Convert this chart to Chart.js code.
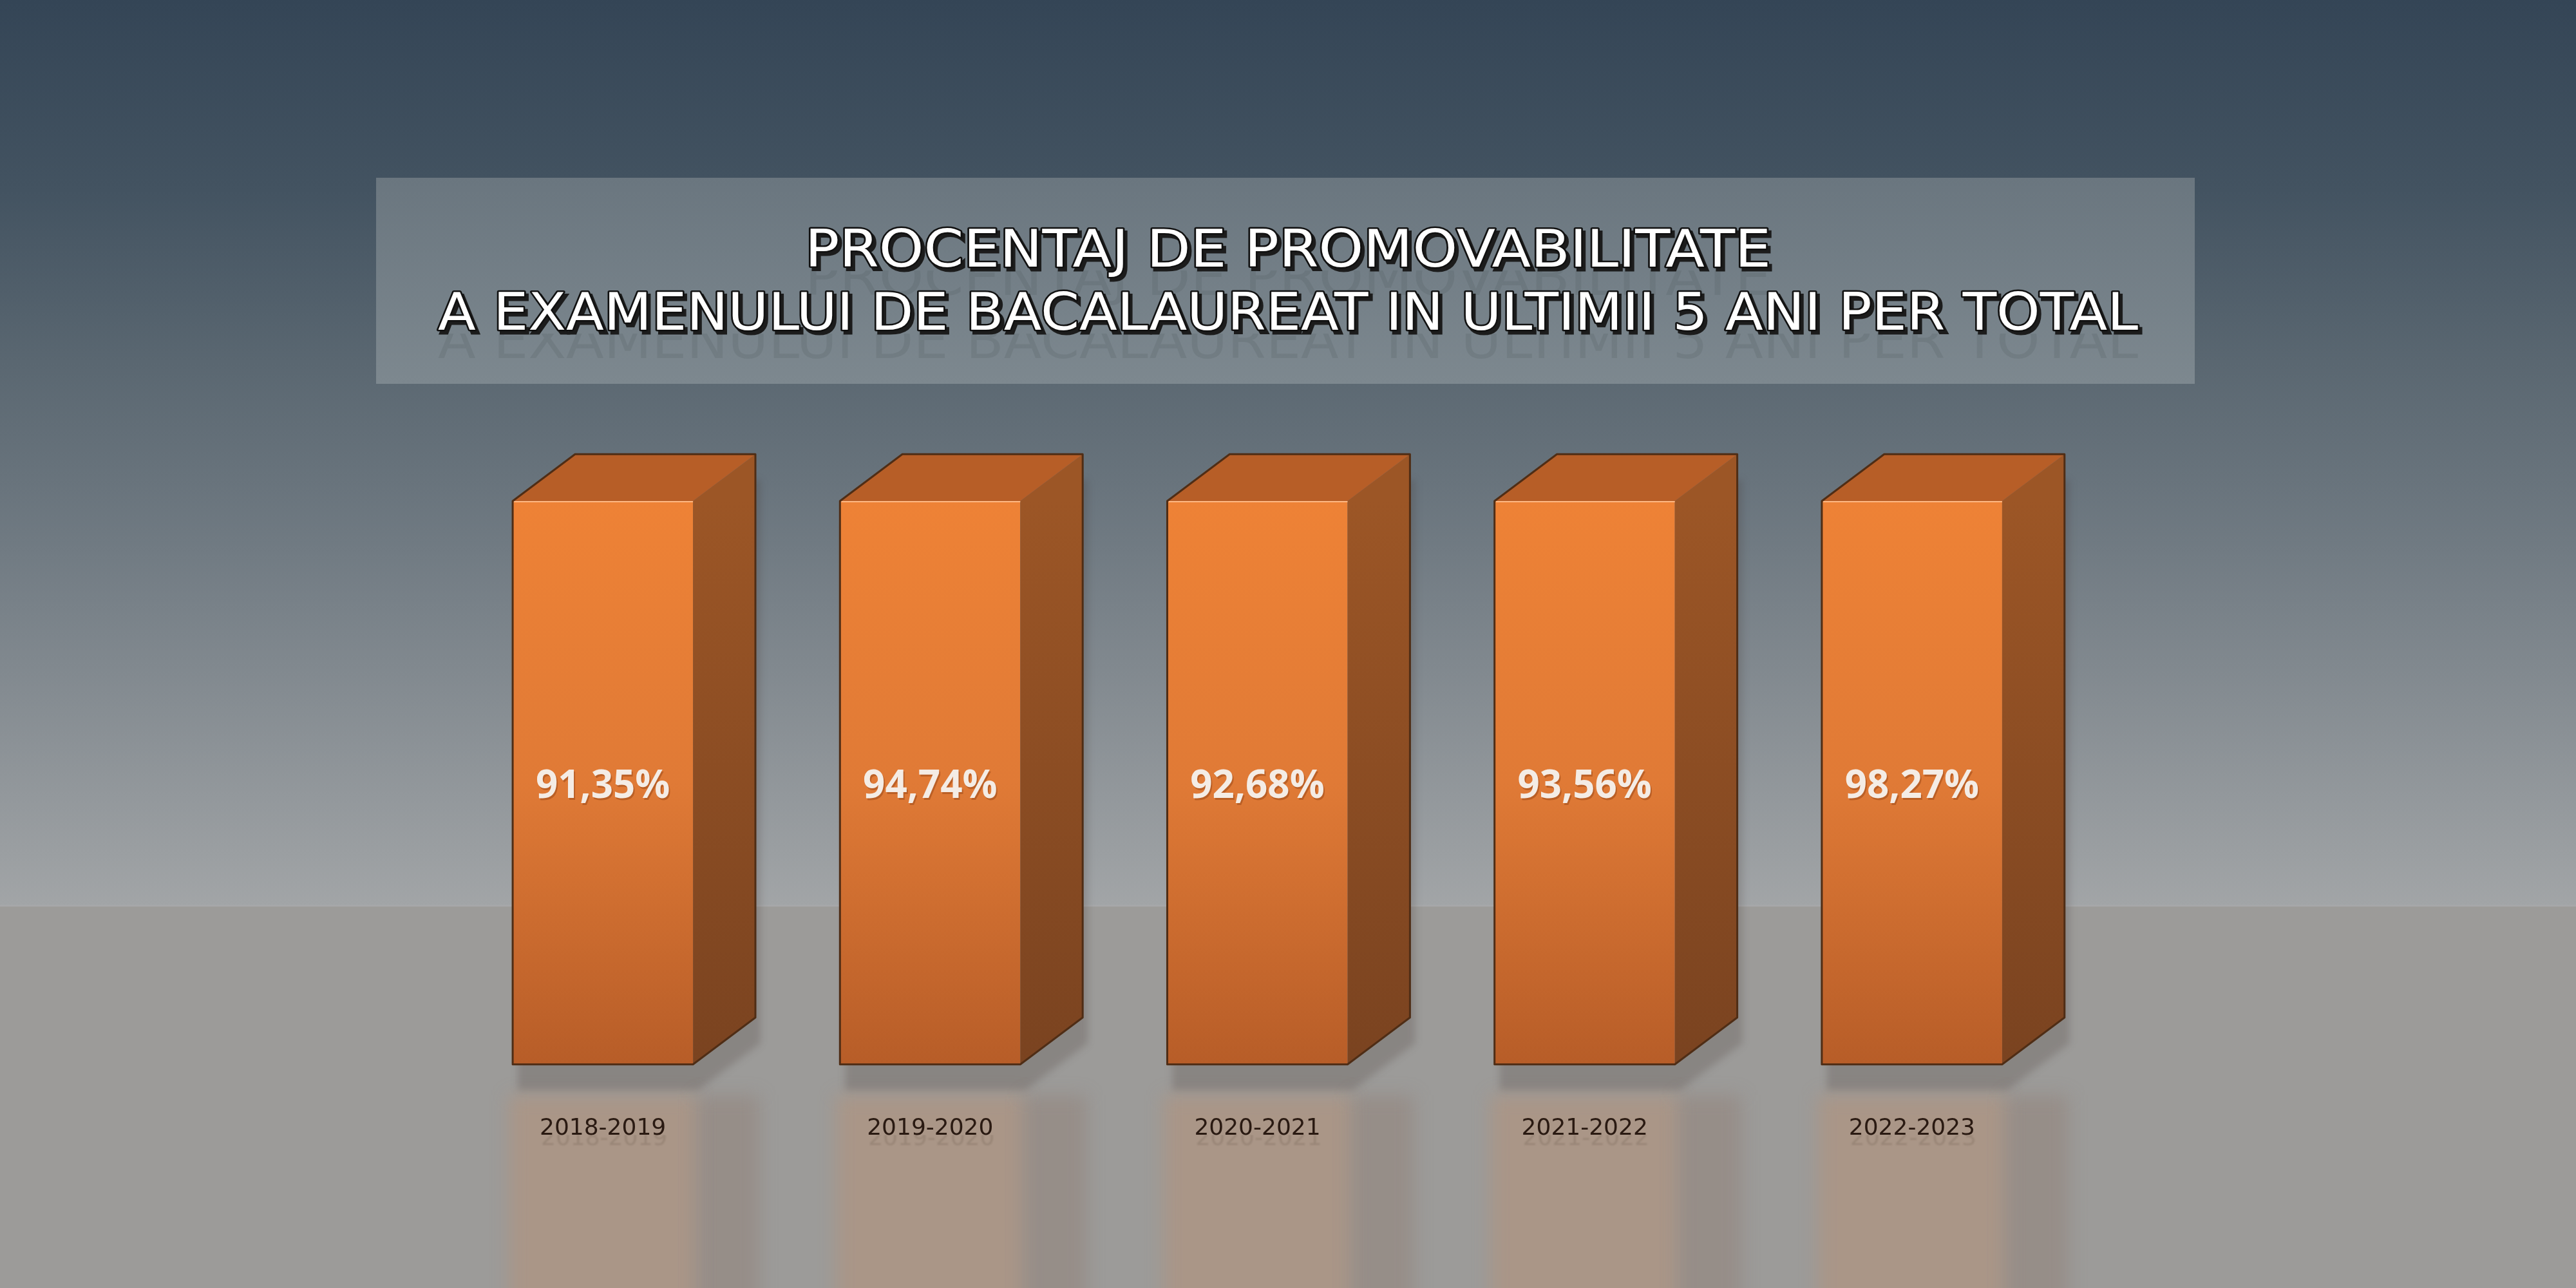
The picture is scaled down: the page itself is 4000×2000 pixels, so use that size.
<!DOCTYPE html>
<html>
<head>
<meta charset="utf-8">
<title>Procentaj de promovabilitate</title>
<script src="https://cdn.jsdelivr.net/npm/chart.js@4.4.1/dist/chart.umd.min.js"></script>
<style>
    html, body { margin: 0; padding: 0; background: #9c9b99; }
    #wrap { width: 4000px; height: 2000px; }
</style>
</head>
<body>
<div id="wrap"><canvas id="bacChart" width="4000" height="2000"></canvas></div>
<script>
"use strict";

/* global Chart */

// ✅ Data
const TITLE_LINES = [
    "PROCENTAJ DE PROMOVABILITATE",
    "A EXAMENULUI DE BACALAUREAT IN ULTIMII 5 ANI PER TOTAL"
];
const YEARS = ["2018-2019", "2019-2020", "2020-2021", "2021-2022", "2022-2023"];
const PASS_RATES = [91.35, 94.74, 92.68, 93.56, 98.27];
// every column in the picture stands at the same full height
const BAR_HEIGHTS = [100, 100, 100, 100, 100];
const Y_MIN = 0;
const Y_MAX = 100;

// ✅ Look
const FLOOR_Y = 1407;
const TICK_PAD = 78;
const TICK_SIZE = 36;

function formatRate(v) {
    return v.toFixed(2).replace(".", ",") + "%";
}

function depthOf(bar) {
    return { dx: bar.width * 0.346, dy: -bar.width * 0.26 };
}

function barGeom(bar) {
    const d = depthOf(bar);
    return {
        x0: bar.x - bar.width / 2,
        x1: bar.x + bar.width / 2,
        top: bar.y,
        base: bar.base,
        dx: d.dx,
        dy: d.dy
    };
}

function silhouette(ctx, g) {
    ctx.beginPath();
    ctx.moveTo(g.x0, g.base);
    ctx.lineTo(g.x0, g.top);
    ctx.lineTo(g.x0 + g.dx, g.top + g.dy);
    ctx.lineTo(g.x1 + g.dx, g.top + g.dy);
    ctx.lineTo(g.x1 + g.dx, g.base + g.dy);
    ctx.lineTo(g.x1, g.base);
    ctx.closePath();
}

function drawTitleLine(ctx, text, cx, baseline, targetW, size) {
    ctx.save();
    ctx.font = `${size}px "DejaVu Sans"`;
    const sx = targetW / ctx.measureText(text).width;
    ctx.translate(cx, baseline);
    ctx.scale(sx, 1);
    ctx.textAlign = "center";
    ctx.textBaseline = "alphabetic";

    // faint echo of the line just below it
    ctx.save();
    ctx.beginPath();
    ctx.rect(-3000, 6, 6000, 80);
    ctx.clip();
    ctx.globalAlpha = 0.1;
    ctx.fillStyle = "#2a2f33";
    ctx.fillText(text, 0, 44);
    ctx.restore();

    // drop shadow
    ctx.fillStyle = "#1c1c1c";
    ctx.strokeStyle = "#1c1c1c";
    ctx.lineWidth = 5;
    ctx.strokeText(text, 4, 5);
    ctx.fillText(text, 4, 5);

    ctx.lineJoin = "round";
    ctx.strokeStyle = "#111";
    ctx.lineWidth = 5;
    ctx.strokeText(text, 0, 0);
    ctx.fillStyle = "#ffffff";
    ctx.fillText(text, 0, 0);
    ctx.restore();
}

// ===========================
// 🚀 Background, title, shadows, reflections
// ===========================
const scenePlugin = {
    id: "scene",
    beforeDraw(chart) {
        const ctx = chart.ctx;
        const W = chart.width;
        const H = chart.height;
        ctx.save();

        // wall
        const wall = ctx.createLinearGradient(0, 0, 0, FLOOR_Y);
        wall.addColorStop(0, "#344556");
        wall.addColorStop(0.21, "#435361");
        wall.addColorStop(0.4, "#5a6771");
        wall.addColorStop(0.61, "#717b83");
        wall.addColorStop(1, "#a2a5a7");
        ctx.fillStyle = wall;
        ctx.fillRect(0, 0, W, FLOOR_Y);

        // floor
        ctx.fillStyle = "#9c9b99";
        ctx.fillRect(0, FLOOR_Y, W, H - FLOOR_Y);
        ctx.fillStyle = "rgba(170,170,172,0.6)";
        ctx.fillRect(0, FLOOR_Y - 2, W, 3);

        // title panel
        const panel = ctx.createLinearGradient(0, 276, 0, 596);
        panel.addColorStop(0, "#6a767f");
        panel.addColorStop(1, "#7d888f");
        ctx.fillStyle = panel;
        ctx.fillRect(584, 276, 2824, 320);

        drawTitleLine(ctx, TITLE_LINES[0], 2000, 414, 1500, 80);
        drawTitleLine(ctx, TITLE_LINES[1], 2000, 512, 2640, 80);

        const meta = chart.getDatasetMeta(0);

        // reflections on the floor
        meta.data.forEach((bar) => {
            const g = barGeom(bar);
            ctx.save();
            ctx.filter = "blur(14px)";
            ctx.fillStyle = "rgba(200,140,100,0.32)";
            ctx.fillRect(g.x0 - 6, g.base + 48, g.x1 - g.x0 + 12, H - g.base);
            ctx.fillStyle = "rgba(135,108,95,0.28)";
            ctx.fillRect(g.x1 + 6, g.base + 48, g.dx, H - g.base);
            ctx.restore();
        });

        // shadows
        meta.data.forEach((bar) => {
            const g = barGeom(bar);
            ctx.save();
            ctx.filter = "blur(6px)";
            ctx.translate(8, 40);
            silhouette(ctx, g);
            ctx.fillStyle = "rgba(60,45,38,0.2)";
            ctx.fill();
            ctx.restore();
        });

        ctx.restore();
    },

    // ✅ Side and top faces, outline, value labels
    afterDatasetsDraw(chart) {
        const ctx = chart.ctx;
        const meta = chart.getDatasetMeta(0);
        meta.data.forEach((bar, i) => {
            const g = barGeom(bar);
            ctx.save();

            // side face
            const side = ctx.createLinearGradient(0, g.top, 0, g.base);
            side.addColorStop(0, "#9c5626");
            side.addColorStop(1, "#7a4320");
            ctx.beginPath();
            ctx.moveTo(g.x1, g.top);
            ctx.lineTo(g.x1 + g.dx, g.top + g.dy);
            ctx.lineTo(g.x1 + g.dx, g.base + g.dy);
            ctx.lineTo(g.x1, g.base);
            ctx.closePath();
            ctx.fillStyle = side;
            ctx.fill();

            // top face
            ctx.beginPath();
            ctx.moveTo(g.x0, g.top);
            ctx.lineTo(g.x0 + g.dx, g.top + g.dy);
            ctx.lineTo(g.x1 + g.dx, g.top + g.dy);
            ctx.lineTo(g.x1, g.top);
            ctx.closePath();
            ctx.fillStyle = "#b75e27";
            ctx.fill();

            // highlight along the front top edge
            ctx.strokeStyle = "rgba(255,190,140,0.9)";
            ctx.lineWidth = 2;
            ctx.beginPath();
            ctx.moveTo(g.x0 + 2, g.top + 1);
            ctx.lineTo(g.x1, g.top + 1);
            ctx.stroke();

            // outline
            silhouette(ctx, g);
            ctx.strokeStyle = "#4f2d15";
            ctx.lineWidth = 3;
            ctx.lineJoin = "round";
            ctx.stroke();

            // value label
            const ly = (g.top + g.base) / 2 + 7;
            ctx.font = 'bold 60px "Open Sans"';
            ctx.textAlign = "center";
            ctx.textBaseline = "middle";
            ctx.fillStyle = "rgba(120,50,10,0.35)";
            ctx.fillText(formatRate(PASS_RATES[i]), bar.x + 2, ly + 3);
            ctx.fillStyle = "#f4ece5";
            ctx.fillText(formatRate(PASS_RATES[i]), bar.x, ly);
            ctx.restore();
        });
    },

    // ✅ Soft echoes of the year labels
    afterDraw(chart) {
        const ctx = chart.ctx;
        const xScale = chart.scales.x;
        const mid = xScale.top + TICK_PAD + TICK_SIZE * 0.6;
        ctx.save();
        ctx.font = `${TICK_SIZE}px "DejaVu Sans"`;
        ctx.textAlign = "center";
        ctx.textBaseline = "middle";
        ctx.beginPath();
        ctx.rect(0, mid + 10, chart.width, 40);
        ctx.clip();
        ctx.fillStyle = "rgba(60,40,30,0.14)";
        ctx.filter = "blur(1px)";
        YEARS.forEach((label, i) => {
            const x = xScale.getPixelForTick(i);
            ctx.fillText(label, x + 2, mid + 16);
        });
        ctx.restore();
    }
};

// ===========================
// 🚀 Chart
// ===========================
const ctx = document.getElementById("bacChart").getContext("2d");

new Chart(ctx, {
    type: "bar",
    data: {
        labels: YEARS,
        datasets: [{
            label: "Promovabilitate",
            data: BAR_HEIGHTS,
            backgroundColor(context) {
                const area = context.chart.chartArea;
                if (!area) return "#e57d34";
                const g = context.chart.ctx.createLinearGradient(0, area.top, 0, area.bottom);
                g.addColorStop(0, "#ee8236");
                g.addColorStop(0.5, "#e07a36");
                g.addColorStop(1, "#b75d28");
                return g;
            },
            borderWidth: 0,
            barPercentage: 1,
            categoryPercentage: 0.551
        }]
    },
    options: {
        responsive: false,
        animation: false,
        devicePixelRatio: 1,
        layout: { padding: { left: 682, right: 777, top: 778, bottom: 148 } },
        scales: {
            x: {
                grid: { display: false, drawTicks: false },
                border: { display: false },
                ticks: {
                    color: "#2a1a12",
                    font: { family: "DejaVu Sans", size: TICK_SIZE },
                    padding: TICK_PAD,
                    maxRotation: 0,
                    autoSkip: false
                }
            },
            y: {
                display: false,
                min: Y_MIN,
                max: Y_MAX
            }
        },
        plugins: {
            legend: { display: false },
            tooltip: { enabled: false },
            title: { display: false }
        }
    },
    plugins: [scenePlugin]
});
</script>
</body>
</html>
